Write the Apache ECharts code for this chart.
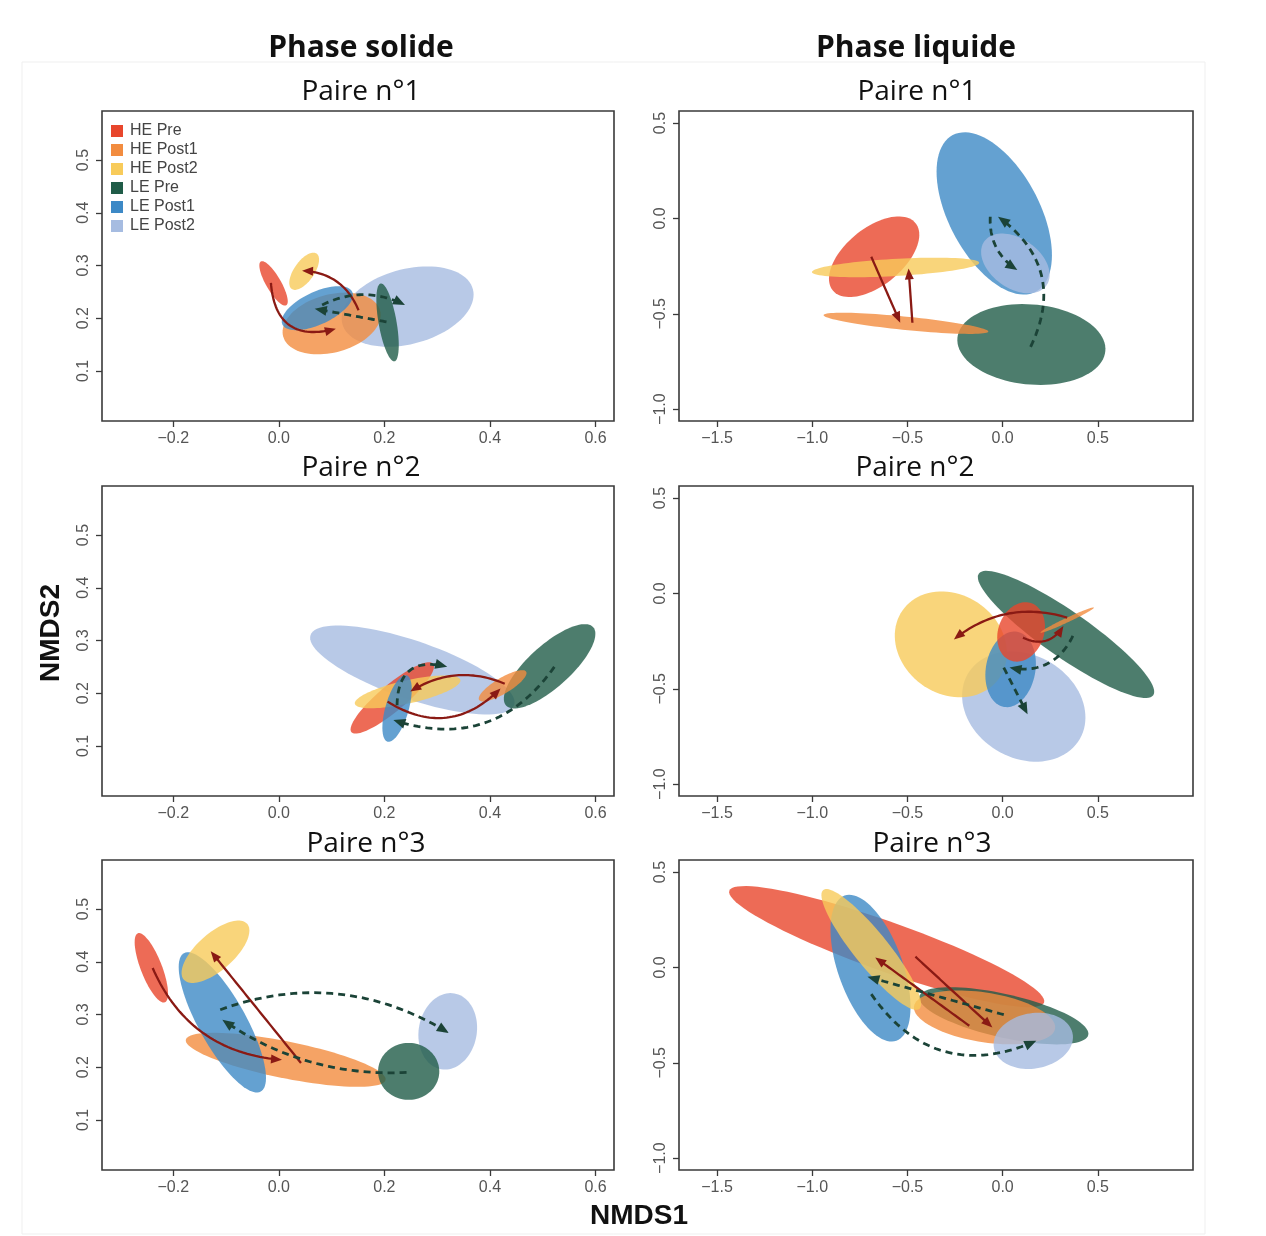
<!DOCTYPE html>
<html><head><meta charset="utf-8">
<script src="https://cdn.jsdelivr.net/npm/echarts@6/dist/echarts.min.js"></script>
<style>html,body{margin:0;padding:0;background:#fff}#c{width:1266px;height:1236px}</style>
</head><body><div id="c"></div>
<script>
// ---------- DATA ----------
const groups = ['HE Pre', 'HE Post1', 'HE Post2', 'LE Pre', 'LE Post1', 'LE Post2'];

// Tick values
const solideXTicks = [-0.2, 0.0, 0.2, 0.4, 0.6];
const solideYTicks = [0.1, 0.2, 0.3, 0.4, 0.5];
const liquideXTicks = [-1.5, -1.0, -0.5, 0.0, 0.5];
const liquideYTicks = [-1.0, -0.5, 0.0, 0.5];

// Ellipses: [centre NMDS1, centre NMDS2, semi-axis a, semi-axis b, angle (deg)] in group order
const solide1Ellipses = [
  [-0.010, 0.266, 0.048, 0.014, -60],
  [0.100, 0.190, 0.095, 0.055, 15],
  [0.048, 0.289, 0.041, 0.019, 55],
  [0.206, 0.192, 0.075, 0.017, -80],
  [0.073, 0.219, 0.073, 0.031, 25],
  [0.244, 0.222, 0.128, 0.071, 15]
];
const liquide1Ellipses = [
  [-0.675, -0.201, 0.280, 0.150, 39],
  [-0.508, -0.550, 0.435, 0.035, -5.7],
  [-0.5625, -0.257, 0.440, 0.045, 3.2],
  [0.151, -0.661, 0.390, 0.210, -5],
  [-0.044, 0.026, 0.465, 0.238, -62],
  [0.067, -0.236, 0.200, 0.130, -35]
];
const solide2Ellipses = [
  [0.215, 0.191, 0.101, 0.025, 40],
  [0.424, 0.214, 0.052, 0.015, 31],
  [0.244, 0.2025, 0.1025, 0.022, 12.7],
  [0.513, 0.251, 0.111, 0.040, 42],
  [0.224, 0.171, 0.0655, 0.022, 74],
  [0.253, 0.244, 0.204, 0.055, -19]
];
const liquide2Ellipses = [
  [0.097, -0.202, 0.160, 0.120, 70],
  [0.339, -0.140, 0.155, 0.012, 25],
  [-0.272, -0.267, 0.310, 0.260, -35],
  [0.333, -0.215, 0.558, 0.120, -34.8],
  [0.042, -0.398, 0.200, 0.130, 80],
  [0.111, -0.593, 0.340, 0.270, -30]
];
const solide3Ellipses = [
  [-0.2415, 0.3885, 0.0703, 0.020, -68.7],
  [0.013, 0.214, 0.193, 0.035, -11.4],
  [-0.120, 0.419, 0.080, 0.035, 41.5],
  [0.246, 0.192, 0.058, 0.054, 0],
  [-0.107, 0.285, 0.150, 0.045, -61],
  [0.320, 0.268, 0.073, 0.055, 80]
];
const liquide3Ellipses = [
  [-0.609, 0.109, 0.877, 0.130, -19.5],
  [-0.095, -0.262, 0.375, 0.130, -9],
  [-0.690, 0.094, 0.401, 0.090, -51],
  [0.006, -0.2535, 0.455, 0.114, -12.8],
  [-0.694, -0.004, 0.404, 0.170, -70.3],
  [0.161, -0.385, 0.210, 0.145, 10]
];

// Arrows: [x0, y0, x1, y1, bend]  (rows 1-2 HE trajectory, rows 3-4 LE trajectory)
const solide1Arrows = [
  [-0.015, 0.267, 0.108, 0.180, -0.60],
  [0.151, 0.215, 0.044, 0.290, -0.32],
  [0.204, 0.193, 0.068, 0.218, 0],
  [0.082, 0.225, 0.239, 0.225, 0.25]
];
const liquide1Arrows = [
  [-0.690, -0.201, -0.538, -0.547, 0],
  [-0.474, -0.547, -0.494, -0.262, 0],
  [0.147, -0.673, -0.024, 0.009, -0.416],
  [-0.065, 0.009, 0.077, -0.271, -0.284]
];
const solide2Arrows = [
  [0.206, 0.184, 0.420, 0.209, -0.40],
  [0.428, 0.218, 0.249, 0.203, -0.26],
  [0.522, 0.250, 0.217, 0.149, 0.37],
  [0.224, 0.177, 0.319, 0.250, 0.63]
];
const liquide2Arrows = [
  [0.107, -0.232, 0.319, -0.171, -0.44],
  [0.339, -0.127, -0.256, -0.241, -0.26],
  [0.369, -0.223, 0.036, -0.389, 0.38],
  [0.006, -0.389, 0.131, -0.634, 0]
];
const solide3Arrows = [
  [-0.239, 0.388, 0.006, 0.214, -0.30],
  [0.042, 0.208, -0.129, 0.420, 0],
  [0.242, 0.190, -0.107, 0.290, 0.17],
  [-0.111, 0.309, 0.322, 0.265, 0.24]
];
const liquide3Arrows = [
  [-0.458, 0.056, -0.054, -0.315, 0],
  [-0.175, -0.306, -0.669, 0.052, 0],
  [0.006, -0.248, -0.710, -0.049, 0],
  [-0.690, -0.140, 0.177, -0.385, -0.41]
];

// ---------- STYLE / LAYOUT ----------
const groupColors = ['#E8462C', '#F28C3F', '#F8CB5A', '#205C48', '#3D89C6', '#A6BCE1'];
const ellipseOpacity = 0.8;
const heArrowColor = '#8A1A14';
const leArrowColor = '#1B4337';

const panels = [
  {kind: 's', left: 102, top: 111, width: 512, height: 310, ell: solide1Ellipses, arr: solide1Arrows},
  {kind: 'l', left: 679, top: 111, width: 514, height: 310, ell: liquide1Ellipses, arr: liquide1Arrows},
  {kind: 's', left: 102, top: 486, width: 512, height: 310, ell: solide2Ellipses, arr: solide2Arrows},
  {kind: 'l', left: 679, top: 486, width: 514, height: 310, ell: liquide2Ellipses, arr: liquide2Arrows},
  {kind: 's', left: 102, top: 860, width: 512, height: 310, ell: solide3Ellipses, arr: solide3Arrows},
  {kind: 'l', left: 679, top: 860, width: 514, height: 310, ell: liquide3Ellipses, arr: liquide3Arrows}
];
const ranges = {
  s: {xmin: -0.335, xmax: 0.635, ymin: 0.005, ymax: 0.593, xt: solideXTicks, yt: solideYTicks},
  l: {xmin: -1.70, xmax: 1.00, ymin: -1.062, ymax: 0.563, xt: liquideXTicks, yt: liquideYTicks}
};

const fmt = v => Number(v).toFixed(1).replace('-', '\u2212');
const tickFont = {fontFamily: 'Liberation Sans', fontSize: 16, color: '#555'};

function ellipseRenderer(g) {
  return function (params, api) {
    const cx = api.value(0), cy = api.value(1), a = api.value(2), b = api.value(3);
    const ang = api.value(4) * Math.PI / 180;
    const ca = Math.cos(ang), sa = Math.sin(ang);
    const pts = [];
    const n = 90;
    for (let i = 0; i < n; i++) {
      const t = i / n * Math.PI * 2;
      const ex = a * Math.cos(t), ey = b * Math.sin(t);
      pts.push(api.coord([cx + ex * ca - ey * sa, cy + ex * sa + ey * ca]));
    }
    return {type: 'polygon', shape: {points: pts}, style: {fill: groupColors[g], opacity: ellipseOpacity}};
  };
}

function arrowRenderer(params, api) {
  const x0 = api.value(0), y0 = api.value(1), x1 = api.value(2), y1 = api.value(3), bend = api.value(4);
  const dx = x1 - x0, dy = y1 - y0;
  const cxd = (x0 + x1) / 2 - dy * bend, cyd = (y0 + y1) / 2 + dx * bend;
  const P0 = api.coord([x0, y0]), C = api.coord([cxd, cyd]), P1 = api.coord([x1, y1]);
  const he = params.dataIndex < 2;
  const color = he ? heArrowColor : leArrowColor;
  const hl = he ? 11 : 12, hw = he ? 4.5 : 5;
  let ux = P1[0] - C[0], uy = P1[1] - C[1];
  const ul = Math.hypot(ux, uy) || 1; ux /= ul; uy /= ul;
  const pts = [];
  const N = 40;
  for (let i = 0; i <= N; i++) {
    const t = i / N, m = 1 - t;
    const px = m * m * P0[0] + 2 * m * t * C[0] + t * t * P1[0];
    const py = m * m * P0[1] + 2 * m * t * C[1] + t * t * P1[1];
    if (Math.hypot(px - P1[0], py - P1[1]) < hl * 0.8) break;
    pts.push([px, py]);
  }
  pts.push([P1[0] - ux * hl * 0.8, P1[1] - uy * hl * 0.8]);
  const bx = P1[0] - ux * hl, by = P1[1] - uy * hl;
  const head = [[P1[0], P1[1]], [bx - uy * hw, by + ux * hw], [bx + uy * hw, by - ux * hw]];
  return {
    type: 'group',
    children: [
      {type: 'polyline', shape: {points: pts},
       style: {stroke: color, lineWidth: he ? 2.3 : 2.8, fill: null, lineDash: he ? null : [7, 5], lineCap: 'butt'}},
      {type: 'polygon', shape: {points: head}, style: {fill: color}}
    ]
  };
}

const grids = [], xAxes = [], yAxes = [], series = [];
panels.forEach((p, i) => {
  const r = ranges[p.kind];
  grids.push({left: p.left, top: p.top, width: p.width, height: p.height, show: true,
    borderColor: '#3a3a3a', borderWidth: 1.6, backgroundColor: 'transparent'});
  xAxes.push({type: 'value', gridIndex: i, position: 'bottom', min: r.xmin, max: r.xmax, splitLine: {show: false},
    axisLine: {show: false, onZero: false},
    axisTick: {show: true, inside: false, length: 6, customValues: r.xt, lineStyle: {color: '#3a3a3a', width: 1.3}},
    axisLabel: Object.assign({show: true, margin: 10, customValues: r.xt, formatter: fmt}, tickFont)});
  yAxes.push({type: 'value', gridIndex: i, position: 'left', min: r.ymin, max: r.ymax, splitLine: {show: false},
    axisLine: {show: false, onZero: false},
    axisTick: {show: true, inside: false, length: 6, customValues: r.yt, lineStyle: {color: '#3a3a3a', width: 1.3}},
    axisLabel: Object.assign({show: true, margin: 10, rotate: 90, customValues: r.yt, formatter: fmt}, tickFont)});
  const order = p.ell.map((e, g) => g).sort((g1, g2) => p.ell[g2][2] * p.ell[g2][3] - p.ell[g1][2] * p.ell[g1][3]);
  order.forEach(g => {
    series.push({type: 'custom', name: groups[g], xAxisIndex: i, yAxisIndex: i, silent: true, z: 2,
      itemStyle: {color: groupColors[g]}, encode: {x: 0, y: 1},
      data: [p.ell[g]], renderItem: ellipseRenderer(g)});
  });
  series.push({type: 'custom', xAxisIndex: i, yAxisIndex: i, silent: true, z: 3,
    encode: {x: 0, y: 1}, data: p.arr, renderItem: arrowRenderer});
});

const txt = (s, x, y, size, weight, family, rot) => ({
  type: 'text', x: x, y: y, rotation: rot || 0, silent: true,
  style: {text: s, fontSize: size, fontWeight: weight, fontFamily: family, fill: '#111', align: 'center', verticalAlign: 'middle'}
});

const option = {
  backgroundColor: '#fff',
  animation: false,
  grid: grids,
  xAxis: xAxes,
  yAxis: yAxes,
  legend: {
    data: groups, orient: 'vertical', left: 106, top: 118, selectedMode: false,
    icon: 'rect', itemWidth: 12, itemHeight: 12, itemGap: 3,
    textStyle: {fontFamily: 'Liberation Sans', fontSize: 16, lineHeight: 16, color: '#444', padding: [0, 0, 0, 2]}
  },
  graphic: [
    {type: 'rect', shape: {x: 22, y: 62, width: 1183, height: 1172}, style: {fill: 'none', stroke: '#efefef', lineWidth: 1}, z: -10, silent: true},
    txt('Phase solide', 361, 48, 30, 'bold', 'Open Sans'),
    txt('Phase liquide', 916, 48, 30, 'bold', 'Open Sans'),
    txt('Paire n°1', 361, 92, 28, 'normal', 'Open Sans'),
    txt('Paire n°1', 917, 92, 28, 'normal', 'Open Sans'),
    txt('Paire n°2', 361, 468, 28, 'normal', 'Open Sans'),
    txt('Paire n°2', 915, 468, 28, 'normal', 'Open Sans'),
    txt('Paire n°3', 366, 844, 28, 'normal', 'Open Sans'),
    txt('Paire n°3', 932, 844, 28, 'normal', 'Open Sans'),
    txt('NMDS2', 51, 633, 28, 'bold', 'Liberation Sans', Math.PI / 2),
    txt('NMDS1', 639, 1216, 28, 'bold', 'Liberation Sans')
  ],
  series: series
};

const chart = echarts.init(document.getElementById('c'));
chart.setOption(option);
</script>
</body></html>
